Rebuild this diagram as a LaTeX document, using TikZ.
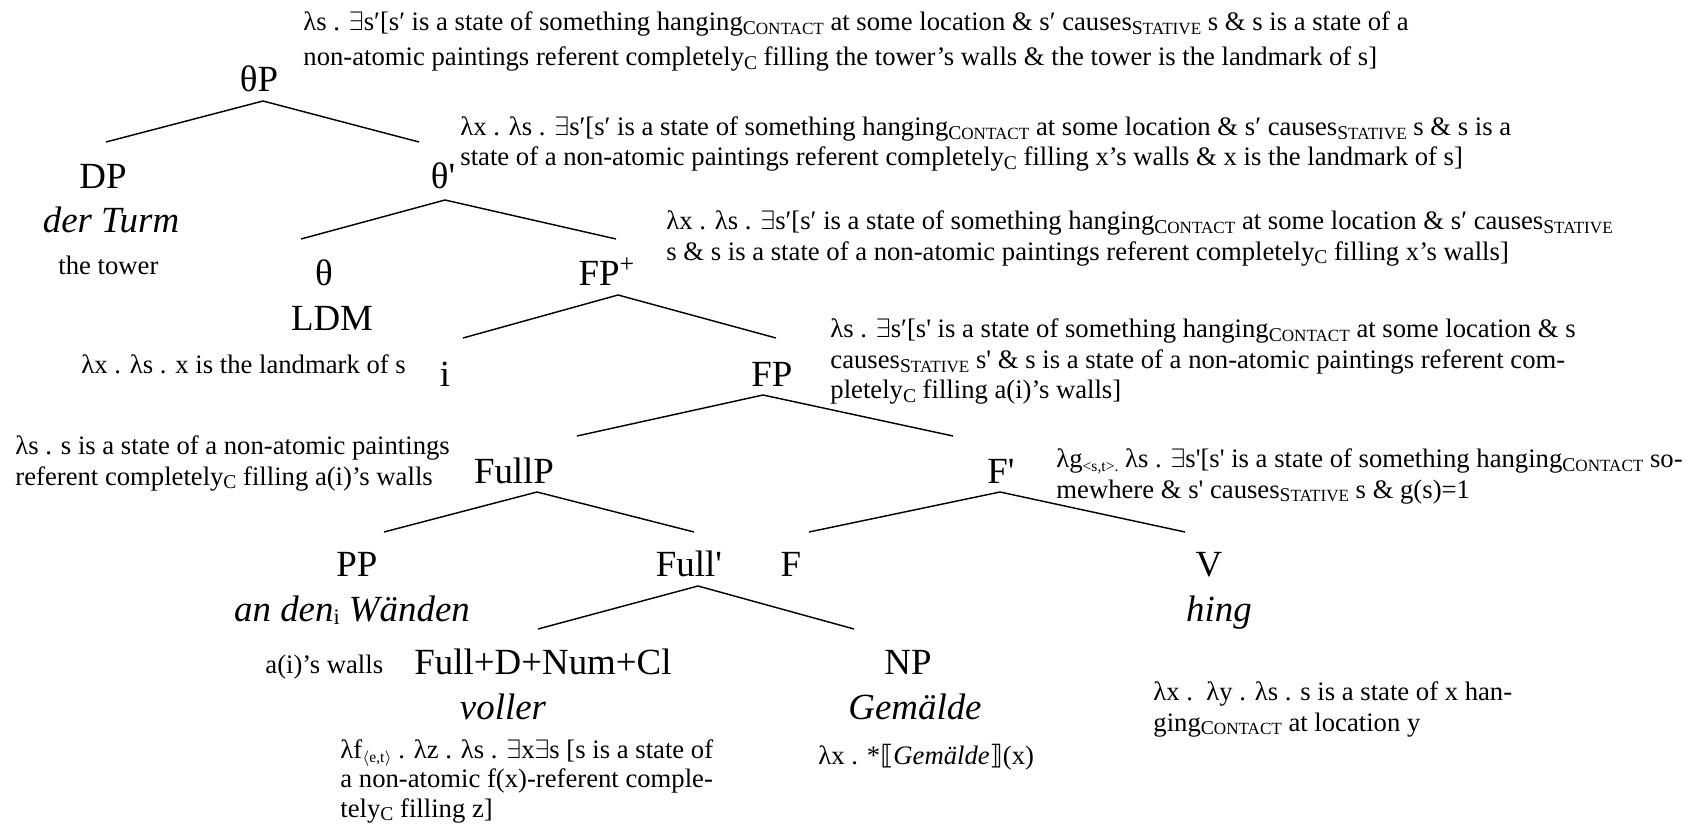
\documentclass[tikz,border=0pt]{standalone}
\usepackage{fontspec}
\setmainfont{Liberation Serif}[Ligatures=TeXOff]
\newfontfamily\symfont{DejaVu Sans}
% type sizes
\newcommand\lblfont{\fontsize{16.6}{19.8}\selectfont}
\newcommand\txtfont{\fontsize{12}{13.8}\selectfont}
% small-caps style subscripts (first letter larger)
\newcommand\SC[2]{\raisebox{-0.3ex}{\fontsize{8.8}{9}\selectfont #1\fontsize{7.7}{8}\selectfont #2}}
\newcommand\lo[1]{\raisebox{-0.3ex}{\fontsize{7}{8}\selectfont #1}}
\newcommand\Ex{$\exists$}
\begin{document}
\begin{tikzpicture}[x=0.45pt,y=-0.45pt,
  lbl/.style={font=\lblfont,anchor=base,inner sep=0pt},
  sem/.style={font=\txtfont,anchor=base west,inner sep=0pt,align=left},
  edge/.style={line width=0.65pt}]
\useasboundingbox (0,0) rectangle (1695,825);

% ---------- semantic annotations (anchored at the baseline of the last line) ----------
\node[sem,font=\fontsize{12}{15.8}\selectfont] (s-top) at (303,66) {λs . \Ex s′[s′ is a state of something hanging\SC{C}{ONTACT} at some location \& s′ causes\SC{S}{TATIVE} s \& s is a state of a\\
non-atomic paintings referent completely\SC{C}{} filling the tower’s walls \& the tower is the landmark of s]};
\node[sem] (s-tbar) at (460,166) {λx . λs . \Ex s′[s′ is a state of something hanging\SC{C}{ONTACT} at some location \& s′ causes\SC{S}{TATIVE} s \& s is a\\
state of a non-atomic paintings referent completely\SC{C}{} filling x’s walls \& x is the landmark of s]};
\node[sem] (s-fpp) at (666,260) {λx . λs . \Ex s′[s′ is a state of something hanging\SC{C}{ONTACT} at some location \& s′ causes\SC{S}{TATIVE}\\
s \& s is a state of a non-atomic paintings referent completely\SC{C}{} filling x’s walls]};
\node[sem] (s-fp) at (830,399) {λs . \Ex s′[s' is a state of something hanging\SC{C}{ONTACT} at some location \& s\\
causes\SC{S}{TATIVE} s' \& s is a state of a non-atomic paintings referent com-\\
pletely\SC{C}{} filling a(i)’s walls]};
\node[sem] (s-ldm) at (81,374) {λx . λs . x is the landmark of s};
\node[sem] (s-fullp) at (15,485) {λs . s is a state of a non-atomic paintings\\
referent completely\SC{C}{} filling a(i)’s walls};
\node[sem] (s-fbar) at (1056,498) {λg\lo{<s,t>.} λs . \Ex s'[s' is a state of something hanging\SC{C}{ONTACT} so-\\
mewhere \& s' causes\SC{S}{TATIVE} s \& g(s)=1};
\node[sem] (s-tower) at (58,275) {the tower};
\node[sem] (s-walls) at (265,673) {a(i)’s walls};
\node[sem,font=\fontsize{12}{13.2}\selectfont] (s-voller) at (340,817) {λf\lo{$\langle$e,t$\rangle$} . λz . λs . \Ex x\Ex s [s is a state of\\
a non-atomic f(x)-referent comple-\\
tely\SC{C}{} filling z]};
\node[sem] (s-np) at (818,764) {λx . *{\symfont ⟦}\textit{Gemälde}{\symfont ⟧}(x)};
\node[sem] (s-v) at (1153,731) {λx .\ \ λy . λs . s is a state of x han-\\
ging\SC{C}{ONTACT} at location y};

% ---------- category labels ----------
\node[lbl] (thetaP) at (259,92) {θP};
\node[lbl] (DP) at (103,189) {DP};
\node[lbl] (derTurm) at (111,232) {\textit{der Turm}};
\node[lbl] (thetabar) at (443,189) {θ'};
\node[lbl] (theta) at (324,286) {θ};
\node[lbl] (LDM) at (332,331) {LDM};
\node[lbl] (FPplus) at (607,286) {FP\textsuperscript{+}};
\node[lbl] (i) at (445,386) {i};
\node[lbl] (FP) at (772,386) {FP};
\node[lbl] (FullP) at (514,483) {FullP};
\node[lbl] (Fbar) at (1001,483) {F'};
\node[lbl] (PP) at (357,576) {PP};
\node[lbl] (anden) at (352,621) {\textit{an den}{\fontsize{10}{12}\selectfont\raisebox{-0.3ex}{i}} \textit{Wänden}};
\node[lbl] (Fullbar) at (689,576) {Full'};
\node[lbl] (F) at (791,576) {F};
\node[lbl] (V) at (1209,576) {V};
\node[lbl] (hing) at (1219,621) {\textit{hing}};
\node[lbl] (FullD) at (543,674) {Full+D+Num+Cl};
\node[lbl] (voller) at (503,719) {\textit{voller}};
\node[lbl] (NP) at (908,674) {NP};
\node[lbl] (Gemaelde) at (915,719) {\textit{Gemälde}};

% ---------- branch points ----------
\coordinate (thetaP-a) at (263,101);
\coordinate (thetaP-l) at (106,142);
\coordinate (thetaP-r) at (419,142);
\coordinate (thetabar-a) at (445,200);
\coordinate (thetabar-l) at (301,239);
\coordinate (thetabar-r) at (616,239);
\coordinate (FPplus-a) at (618,295);
\coordinate (FPplus-l) at (463,338);
\coordinate (FPplus-r) at (776,338);
\coordinate (FP-a) at (763,395);
\coordinate (FP-l) at (577,436);
\coordinate (FP-r) at (953,436);
\coordinate (FullP-a) at (537,492);
\coordinate (FullP-l) at (384,532);
\coordinate (FullP-r) at (694,532);
\coordinate (Fbar-a) at (1000,492);
\coordinate (Fbar-l) at (809,532);
\coordinate (Fbar-r) at (1185,532);
\coordinate (Fullbar-a) at (698,586);
\coordinate (Fullbar-l) at (538,629);
\coordinate (Fullbar-r) at (854,629);

% ---------- branches ----------
\draw[edge] (thetaP-l) -- (thetaP-a) -- (thetaP-r);
\draw[edge] (thetabar-l) -- (thetabar-a) -- (thetabar-r);
\draw[edge] (FPplus-l) -- (FPplus-a) -- (FPplus-r);
\draw[edge] (FP-l) -- (FP-a) -- (FP-r);
\draw[edge] (FullP-l) -- (FullP-a) -- (FullP-r);
\draw[edge] (Fbar-l) -- (Fbar-a) -- (Fbar-r);
\draw[edge] (Fullbar-l) -- (Fullbar-a) -- (Fullbar-r);
\end{tikzpicture}
\end{document}
